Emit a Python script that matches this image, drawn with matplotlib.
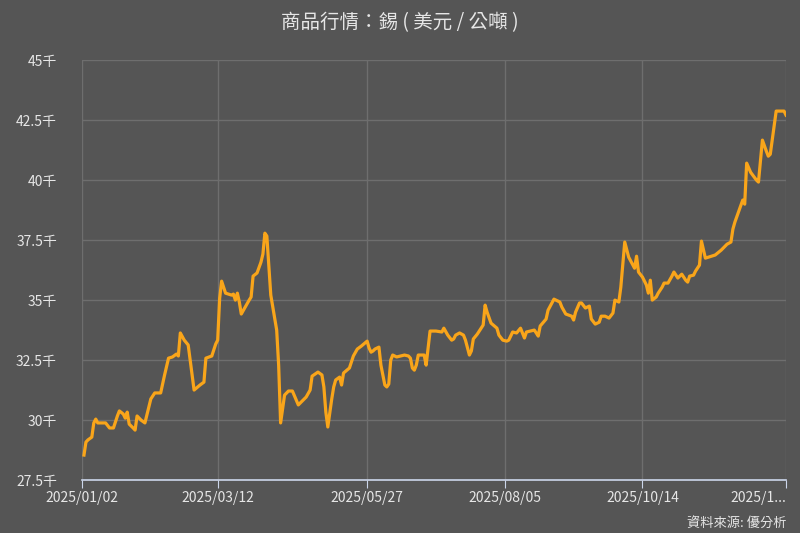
import matplotlib
matplotlib.use("Agg")
import matplotlib.pyplot as plt
import pandas as pd

plt.rcParams['font.family'] = ['Noto Sans CJK TC', 'DejaVu Sans']

dates = ["01-03","01-04","01-05","01-07","01-08","01-09","01-10","01-14","01-16","01-18","01-20","01-21","01-23","01-24","01-25","01-26","01-28","01-29","01-30","02-01","02-03","02-06","02-08","02-11","02-13","02-15","02-17","02-19","02-20","02-21","02-23","02-25","02-27","02-28","03-03","03-05","03-06","03-09","03-11","03-12","03-13","03-14","03-16","03-19","03-20","03-21","03-22","03-23","03-24","03-26","03-28","03-29","03-30","04-01","04-03","04-04","04-05","04-06","04-08","04-11","04-12","04-13","04-15","04-17","04-19","04-22","04-26","04-28","04-29","05-02","05-04","05-05","05-06","05-07","05-09","05-10","05-11","05-13","05-14","05-15","05-18","05-20","05-22","05-24","05-27","05-28","05-29","05-30","05-31","06-02","06-03","06-05","06-06","06-07","06-08","06-09","06-11","06-13","06-15","06-17","06-18","06-19","06-20","06-21","06-22","06-25","06-26","06-28","07-01","07-04","07-05","07-07","07-09","07-10","07-11","07-13","07-15","07-16","07-18","07-19","07-20","07-22","07-24","07-25","07-26","07-27","07-29","08-01","08-02","08-04","08-06","08-07","08-09","08-11","08-13","08-15","08-16","08-18","08-20","08-21","08-22","08-23","08-26","08-27","08-30","09-02","09-03","09-05","09-08","09-09","09-10","09-12","09-13","09-15","09-17","09-18","09-20","09-22","09-23","09-25","09-27","09-29","09-30","10-02","10-03","10-05","10-07","10-10","10-11","10-12","10-14","10-16","10-17","10-18","10-19","10-21","10-22","10-24","10-25","10-27","10-29","10-30","11-01","11-03","11-05","11-06","11-07","11-09","11-10","11-12","11-13","11-15","11-18","11-20","11-23","11-26","11-28","11-29","11-30","12-02","12-04","12-05","12-06","12-08","12-11","12-12","12-14","12-16","12-17","12-18","12-21","12-25","12-26"]
prices = [28.54,29.08,29.17,29.29,29.88,30.04,29.88,29.88,29.67,29.67,30.17,30.38,30.25,30.08,30.33,29.83,29.67,29.58,30.17,30.00,29.88,30.88,31.13,31.13,31.88,32.58,32.63,32.75,32.67,33.63,33.33,33.13,31.88,31.25,31.46,31.58,32.58,32.67,33.17,33.33,35.08,35.79,35.29,35.21,35.25,35.00,35.29,34.92,34.42,34.71,35.00,35.13,36.00,36.13,36.58,36.92,37.79,37.67,35.21,33.75,32.29,29.88,31.04,31.21,31.21,30.63,30.96,31.25,31.83,32.00,31.88,31.38,30.33,29.71,30.88,31.38,31.67,31.79,31.46,31.96,32.17,32.67,32.96,33.08,33.29,33.00,32.83,32.88,32.96,33.04,32.29,31.46,31.38,31.50,32.50,32.71,32.63,32.67,32.71,32.67,32.58,32.17,32.08,32.29,32.71,32.71,32.29,33.71,33.71,33.67,33.83,33.54,33.33,33.38,33.54,33.63,33.54,33.33,32.71,32.88,33.38,33.58,33.83,33.96,34.79,34.50,34.04,33.83,33.54,33.33,33.29,33.33,33.67,33.63,33.83,33.42,33.67,33.71,33.75,33.63,33.50,33.92,34.21,34.58,35.04,34.92,34.71,34.42,34.33,34.17,34.50,34.88,34.88,34.67,34.75,34.21,34.00,34.08,34.33,34.33,34.25,34.46,35.00,34.92,35.54,37.42,36.79,36.33,36.83,36.17,35.96,35.63,35.29,35.83,35.00,35.13,35.29,35.54,35.71,35.71,36.00,36.17,35.92,36.08,35.83,35.75,36.00,36.04,36.21,36.46,37.46,36.75,36.83,36.88,37.08,37.33,37.42,37.96,38.25,38.71,39.17,39.00,40.71,40.33,40.00,39.92,41.67,41.21,41.00,41.08,42.88,42.88,42.71]

yticks = [27.5, 30, 32.5, 35, 37.5, 40, 42.5, 45]
ytick_labels = ["27.5千", "30千", "32.5千", "35千", "37.5千", "40千", "42.5千", "45千"]
xtick_dates = ["2025-01-02", "2025-03-12", "2025-05-27", "2025-08-05", "2025-10-14", "2025-12-26"]
xtick_labels = ["2025/01/02", "2025/03/12", "2025/05/27", "2025/08/05", "2025/10/14", "2025/1..."]

x = pd.to_datetime(["2025-" + d for d in dates])
bg = "#555555"
fg = "#e6e6e6"

fig = plt.figure(figsize=(8, 5.33), dpi=100, facecolor=bg)
ax = fig.add_axes([0.1025, 0.0994, 0.88, 0.7876], facecolor=bg)
ax.plot(x, prices, color="#F9A51A", lw=2.3, solid_joinstyle="round")
ax.set_ylim(27.5, 45)
ax.set_xlim(pd.Timestamp("2025-01-02"), pd.Timestamp("2025-12-26"))
ax.set_yticks(yticks)
ax.set_yticklabels(ytick_labels)
ax.set_xticks(pd.to_datetime(xtick_dates))
ax.set_xticklabels(xtick_labels)
ax.get_xticklabels()[-1].set_ha("right")
ax.grid(True, color="#6e6e6e", lw=1)
for s in ["top", "right", "left"]:
    ax.spines[s].set_visible(False)
ax.spines["bottom"].set_color("#ccd6eb")
ax.spines["bottom"].set_linewidth(1.2)
ax.tick_params(axis="y", length=0, colors=fg, labelsize=10, pad=18)
ax.tick_params(axis="x", length=6, color="#ccd6eb", colors=fg, labelsize=10, pad=2)
ax.set_axisbelow(True)
fig.text(0.5, 0.958, "商品行情：錫 ( 美元 / 公噸 )", ha="center", va="center", color=fg, fontsize=14)
fig.text(0.983, 0.018, "資料來源: 優分析", ha="right", va="center", color=fg, fontsize=9.5)
fig.savefig("out.png", dpi=100, facecolor=bg)
